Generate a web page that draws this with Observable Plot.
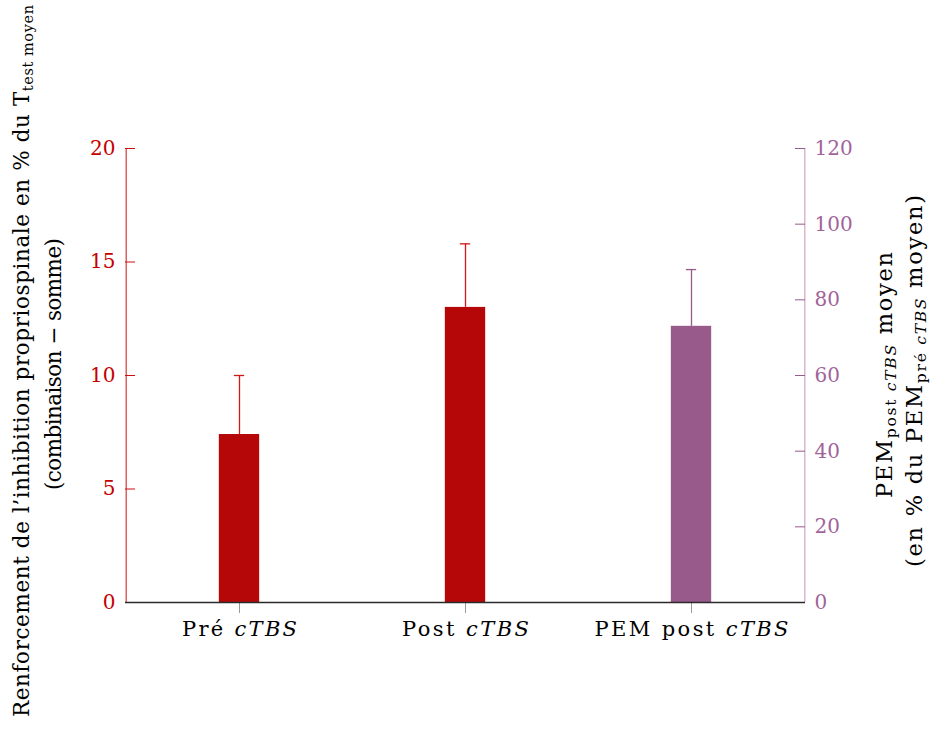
<!DOCTYPE html>
<html><head><meta charset="utf-8">
<script src="https://cdn.jsdelivr.net/npm/d3@7"></script>
<script src="https://cdn.jsdelivr.net/npm/@observablehq/plot@0.6"></script>
<style>
body{margin:0;background:#fff}
#chart svg{font-family:"DejaVu Serif",serif}
</style>
</head><body><div id="chart"></div>
<script>
// ---- data ----
const categories = ["Pré", "Post", "PEM post"];
const italicSuffix = "cTBS";
const axisSide = ["left", "left", "right"];      // which y axis each bar reads on
const means = [7.4, 13.0, 73];                    // left: %, right: %
const upperErr = [10.0, 15.8, 88];
const leftTicks = [0, 5, 10, 15, 20];
const rightTicks = [0, 20, 40, 60, 80, 100, 120];
const leftMax = 20, rightMax = 120;

// ---- styles ----
const RED = "#b50707", RED_ERR = "#d01818", RED_TXT = "#c40000", RED_AX = "#cc1010";
const PUR = "#975a8b", PUR_ERR = "#975a8b", PUR_TXT = "#a0649a", PUR_AX = "#cfa5c8";
const FONT = '"DejaVu Serif",serif';
const ratio = rightMax / leftMax;
const xLabelWidths = [115, 127, 194];

const rows = categories.map((c, i) => {
  const r = axisSide[i] === "right" ? ratio : 1;
  return {cat: c, side: axisSide[i], y: means[i] / r, hi: upperErr[i] / r};
});
const leftRows = rows.filter(d => d.side === "left");
const rightRows = rows.filter(d => d.side === "right");

const W = 930, H = 746, ML = 125, MR = 125, MT = 148, MB = 144;
const band = (W - ML - MR) / categories.length;
const barW = 41, capW = 11, tick = 10;
const plotW = W - ML - MR;
const TF = 19.5;
const barInset = (band - barW) / 2, capInset = (band - capW) / 2;

function errMarks(data, fill, color) {
  return [
    Plot.barY(data, {x: "cat", y: "y", fill, insetLeft: barInset, insetRight: barInset}),
    Plot.ruleX(data, {x: "cat", y1: "y", y2: "hi", stroke: color, strokeWidth: 1.3}),
    Plot.tickY(data, {x: "cat", y: "hi", stroke: color, strokeWidth: 1.3, insetLeft: capInset, insetRight: capInset})
  ];
}

const chart = Plot.plot({
  width: W, height: H,
  marginLeft: ML, marginRight: MR, marginTop: MT, marginBottom: MB,
  style: {fontFamily: FONT, fontSize: TF + "px", background: "white", color: "black"},
  x: {domain: categories, padding: 0, label: null},
  y: {domain: [0, leftMax], label: null},
  marks: [
    ...errMarks(leftRows, RED, RED_ERR),
    ...errMarks(rightRows, PUR, PUR_ERR),
    // left axis
    Plot.ruleX([categories[0]], {x: d => d, y1: 0, y2: leftMax, dx: -band / 2, stroke: RED_AX, strokeWidth: 1}),
    Plot.tickY(leftTicks, {y: d => d, stroke: RED_AX, insetRight: plotW - tick}),
    Plot.axisY({anchor: "left", ticks: leftTicks, tickSize: 0, tickPadding: 10, fill: RED_TXT, label: null, fontSize: 20}),
    // right axis
    Plot.ruleX([categories[categories.length - 1]], {x: d => d, y1: 0, y2: leftMax, dx: band / 2, stroke: PUR_AX, strokeWidth: 1.2}),
    Plot.tickY(rightTicks, {y: d => d / ratio, stroke: PUR, insetLeft: plotW - tick}),
    Plot.axisY({anchor: "right", ticks: rightTicks.map(v => v / ratio), tickFormat: d => String(Math.round(d * ratio)), tickSize: 0, tickPadding: 9, fill: PUR_TXT, label: null, fontSize: 20}),
    // x axis
    Plot.axisX({anchor: "bottom", tickSize: 11, stroke: "#9a9a9a", tickPadding: 8, label: null, fontSize: 21, fill: "black"}),
    Plot.ruleY([0], {stroke: "#2a2a2a", strokeWidth: 1.5})
  ]
});
document.getElementById("chart").append(chart);

const svg = d3.select(chart);
// italic suffix for x tick labels
svg.selectAll('g[aria-label="x-axis tick label"] text').each(function(d, i) {
  const t = d3.select(this);
  const name = categories[i];
  t.text(null).attr("textLength", xLabelWidths[i]).attr("lengthAdjust", "spacing");
  t.append("tspan").text(name + " ");
  t.append("tspan").attr("font-style", "italic").text(italicSuffix);
});

function label(x, cy, len, fs) {
  return svg.append("text").attr("transform", `translate(${x},${cy}) rotate(-90)`)
    .attr("text-anchor", "middle").attr("font-size", fs).attr("fill", "black")
    .attr("textLength", len).attr("lengthAdjust", "spacing");
}
// left y label (two lines)
const l1 = label(29, 361, 712, 21.5);
l1.append("tspan").text("Renforcement de l\u2019inhibition propriospinale en % du T");
l1.append("tspan").attr("font-size", 14.5).attr("dy", 4).text("test moyen");
label(61, 364, 252, 21.5).text("(combinaison \u2212 somme)");
// right y label
const r1 = label(892, 375, 246, 22.5);
r1.append("tspan").text("PEM");
r1.append("tspan").attr("font-size", 15.5).attr("dy", 4).text("post ");
r1.append("tspan").attr("font-size", 15.5).attr("font-style", "italic").text("cTBS");
r1.append("tspan").attr("dy", -4).text(" moyen");
const r2 = label(922, 381, 372, 22.5);
r2.append("tspan").text("(en % du PEM");
r2.append("tspan").attr("font-size", 15.5).attr("dy", 4).text("pré ");
r2.append("tspan").attr("font-size", 15.5).attr("font-style", "italic").text("cTBS");
r2.append("tspan").attr("dy", -4).text(" moyen)");
</script>
</body></html>
